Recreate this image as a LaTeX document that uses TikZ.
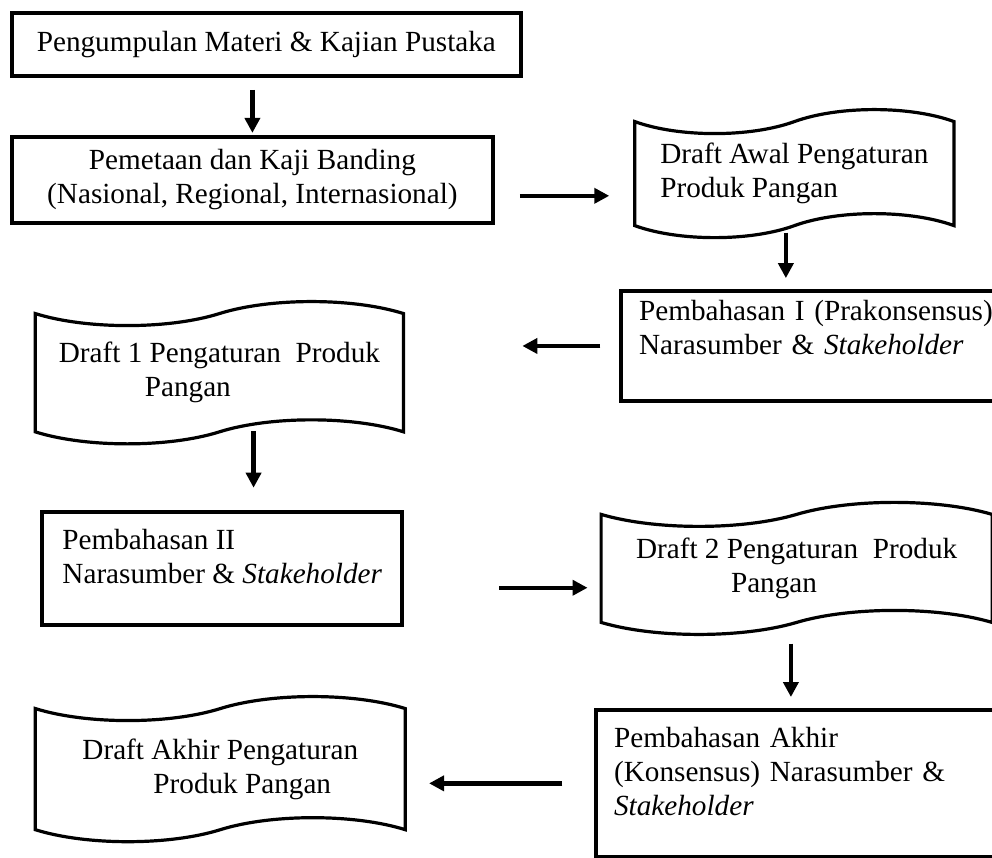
\documentclass[tikz,border=0pt]{standalone}
\usepackage{fontspec}
\setmainfont{Liberation Serif}
\usetikzlibrary{positioning,calc,arrows.meta,shapes.symbols}

\begin{document}
\begin{tikzpicture}[
    stepbox/.style={rectangle, draw=black, line width=2pt, inner sep=0pt,
                    font=\fontsize{14.6pt}{17pt}\selectfont},
    talkbox/.style={stepbox, align=left, inner xsep=9pt, inner ysep=0pt},
    draftbox/.style={tape, draw=black, line width=1.6pt, tape bend height=12pt,
                     align=left, inner sep=0pt, font=\fontsize{14.6pt}{17pt}\selectfont},
    arrow/.style={-{Triangle[length=7.5pt, width=7.5pt]}, line width=2.2pt}
]

\useasboundingbox (-4.68,0.78) rectangle ++(17.43,-15.06);

\node[stepbox, minimum width=8.94cm, minimum height=1.11cm] (materi) {Pengumpulan Materi \& Kajian Pustaka};
\node[stepbox, align=center, minimum width=8.45cm, minimum height=1.51cm,
      below=1.00cm of materi.south west, anchor=north west] (pemetaan) {Pemetaan dan Kaji Banding\\(Nasional, Regional, Internasional)};
\node[draftbox, minimum width=5.61cm, minimum height=2.25cm,
      right=2.43cm of pemetaan.east, yshift=0.11cm] (draftawal) {Draft Awal Pengaturan\\Produk Pangan};
\node[talkbox, text width=182pt, text height=15pt, text depth=40pt,
      below=1.09cm of draftawal, xshift=0.47cm] (bahas1) {Pembahasan I (Prakonsensus)\\Narasumber \& \textit{Stakeholder}};
\node[draftbox, minimum width=6.47cm, minimum height=2.50cm,
      left=3.76cm of bahas1, yshift=-0.47cm] (draft1) {Draft 1 Pengaturan\ \ Produk\\\hspace*{43pt}Pangan};
\node[talkbox, minimum width=180pt, text height=36pt, text depth=20.5pt,
      below=1.35cm of draft1, xshift=0.05cm] (bahas2) {Pembahasan II\\Narasumber \& \textit{Stakeholder}};
\node[draftbox, minimum width=6.87cm, minimum height=2.32cm,
      right=3.43cm of bahas2] (draft2) {Draft 2 Pengaturan\ \ Produk\\\hspace*{47.5pt}Pangan};
\node[talkbox, text width=187pt, text height=19pt, text depth=54.5pt,
      below=1.48cm of draft2, xshift=0.08cm] (bahasakhir) {Pembahasan Akhir\\(Konsensus) Narasumber \&\\\textit{Stakeholder}};
\node[draftbox, minimum width=6.50cm, minimum height=2.55cm,
      left=3.29cm of bahasakhir, yshift=0.25cm] (draftakhir) {Draft Akhir Pengaturan\\\hspace*{35.5pt}Produk Pangan};

% arrows between the steps
\draw[arrow, shorten <=0.21cm, shorten >=1pt] (materi.south -| pemetaan.north) -- (pemetaan.north);
\draw[arrow, shorten <=0.44cm, shorten >=0.42cm] ($(pemetaan.east)+(0,-0.28)$) -- ($(pemetaan.east -| draftawal.west)+(0,-0.28)$);
\draw[arrow, shorten <=0.10cm, shorten >=0.19cm] ($(draftawal.south)+(-0.15,0)$) -- ($(draftawal.south |- bahas1.north)+(-0.15,0)$);
\draw[arrow, shorten <=0.33cm, shorten >=2.06cm] (bahas1.west) -- (bahas1.west -| draft1.east);
\draw[arrow, shorten >=0.39cm] ($(draft1.south)+(0.60,0.03)$) -- ($(draft1.south |- bahas2.north)+(0.60,0)$);
\draw[arrow, shorten <=1.67cm, shorten >=0.21cm] ($(bahas2.east)+(0,-0.34)$) -- ($(bahas2.east -| draft2.west)+(0,-0.34)$);
\draw[arrow, shorten <=0.35cm, shorten >=0.19cm] ($(draft2.south)+(-0.10,0)$) -- ($(draft2.south |- bahasakhir.north)+(-0.10,0)$);
\draw[arrow, shorten <=0.56cm, shorten >=0.39cm] (bahasakhir.west) -- (bahasakhir.west -| draftakhir.east);

\end{tikzpicture}
\end{document}
